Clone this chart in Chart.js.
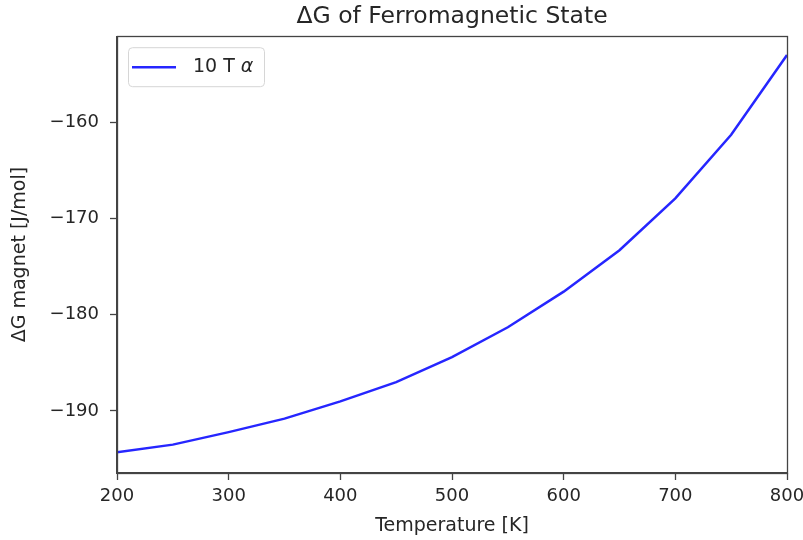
<!DOCTYPE html>
<html>
<head>
    <title>ΔG of Ferromagnetic State</title>
    <script src="https://cdn.jsdelivr.net/npm/chart.js"></script>
    <style>
        body { margin: 0; background: #fff; }
        #wrap { width: 803px; height: 540px; }
    </style>
</head>
<body>
    <div id="wrap"><canvas id="chart"></canvas></div>

    <script>
        // temperature [K] and ΔG magnet [J/mol]
        let temperatures = [200, 250, 300, 350, 400, 450, 500, 550, 600, 650, 700, 750, 800];
        let dG10T = [-194.3, -193.5, -192.2, -190.8, -189.0, -187.0, -184.4, -181.3, -177.6, -173.3, -167.9, -161.3, -153.0];
        let yTicks = [-190, -180, -170, -160];
        let xTicks = [200, 300, 400, 500, 600, 700, 800];

        let font = "'DejaVu Sans', sans-serif";
        let textColor = "#262626";

        // box around the plot area + matplotlib style legend in the upper left
        let framePlugin = {
            id: "frame",
            afterDraw(chart) {
                let ctx = chart.ctx;
                let a = chart.chartArea;
                ctx.save();
                ctx.strokeStyle = "#444";
                ctx.lineWidth = 1.3;
                ctx.strokeRect(Math.round(a.left) + 0.5, Math.round(a.top) + 0.5,
                    Math.round(a.right - a.left), Math.round(a.bottom - a.top));

                // legend
                let ds = chart.data.datasets[0];
                let x = a.left + 11, y = a.top + 11, w = 136, h = 39;
                ctx.fillStyle = "rgba(255,255,255,0.8)";
                ctx.strokeStyle = "#d6d6d6";
                ctx.lineWidth = 1;
                ctx.beginPath();
                ctx.roundRect(x + 0.5, y + 0.5, w, h, 4);
                ctx.fill();
                ctx.stroke();

                ctx.strokeStyle = ds.borderColor;
                ctx.lineWidth = ds.borderWidth;
                ctx.beginPath();
                ctx.moveTo(x + 4, y + 20);
                ctx.lineTo(x + 48, y + 20);
                ctx.stroke();

                let parts = ds.label.split(" ");
                let greek = parts.pop();
                let plain = parts.join(" ") + " ";
                ctx.fillStyle = textColor;
                ctx.textBaseline = "middle";
                ctx.font = "19px " + font;
                ctx.fillText(plain, x + 65, y + 20);
                let pw = ctx.measureText(plain).width;
                ctx.font = "italic 19px " + font;
                ctx.fillText(greek, x + 65 + pw, y + 20);
                ctx.restore();
            }
        };

        new Chart(document.getElementById("chart"), {
            type: "line",
            data: {
                datasets: [{
                    label: "10 T α",
                    data: temperatures.map((t, i) => ({ x: t, y: dG10T[i] })),
                    borderColor: "rgba(0, 0, 255, 0.85)",
                    backgroundColor: "rgba(0, 0, 255, 0.85)",
                    borderWidth: 2.5,
                    pointRadius: 0,
                    tension: 0
                }]
            },
            options: {
                responsive: true,
                maintainAspectRatio: false,
                animation: false,
                layout: { padding: { left: 0, right: 16, top: 0, bottom: 0 } },
                plugins: {
                    title: {
                        display: true,
                        fullSize: false,
                        text: "ΔG of Ferromagnetic State",
                        color: textColor,
                        font: { family: font, size: 23.5, weight: "normal" },
                        padding: { top: 3, bottom: 5 }
                    },
                    legend: { display: false },
                    tooltip: { enabled: false }
                },
                scales: {
                    x: {
                        type: "linear",
                        min: 200,
                        max: 800,
                        afterBuildTicks: s => { s.ticks = xTicks.map(v => ({ value: v })); },
                        afterFit: s => { s.height = 67; s.paddingLeft = 0; s.paddingRight = 0; },
                        grid: { drawOnChartArea: false, tickLength: 7, color: "#444", tickWidth: 1.3 },
                        border: { color: "#444", width: 1.3 },
                        ticks: { color: textColor, font: { family: font, size: 18 }, padding: 6, maxRotation: 0 },
                        title: {
                            display: true,
                            text: "Temperature [K]",
                            color: textColor,
                            font: { family: font, size: 19 },
                            padding: { top: 0, bottom: 3 }
                        }
                    },
                    y: {
                        min: -196.45,
                        max: -151.05,
                        afterBuildTicks: s => { s.ticks = yTicks.map(v => ({ value: v })); },
                        afterFit: s => { s.width = 117; },
                        grid: { drawOnChartArea: false, tickLength: 7, color: "#444", tickWidth: 1.3 },
                        border: { color: "#444", width: 1.3 },
                        ticks: {
                            color: textColor,
                            font: { family: font, size: 18 },
                            padding: 11,
                            callback: v => (v < 0 ? "\u2212" + Math.abs(v) : String(v))
                        },
                        title: {
                            display: true,
                            text: "ΔG magnet [J/mol]",
                            color: textColor,
                            font: { family: font, size: 19 },
                            padding: { top: 9, bottom: 0 }
                        }
                    }
                }
            },
            plugins: [framePlugin]
        });
    </script>
</body>
</html>
